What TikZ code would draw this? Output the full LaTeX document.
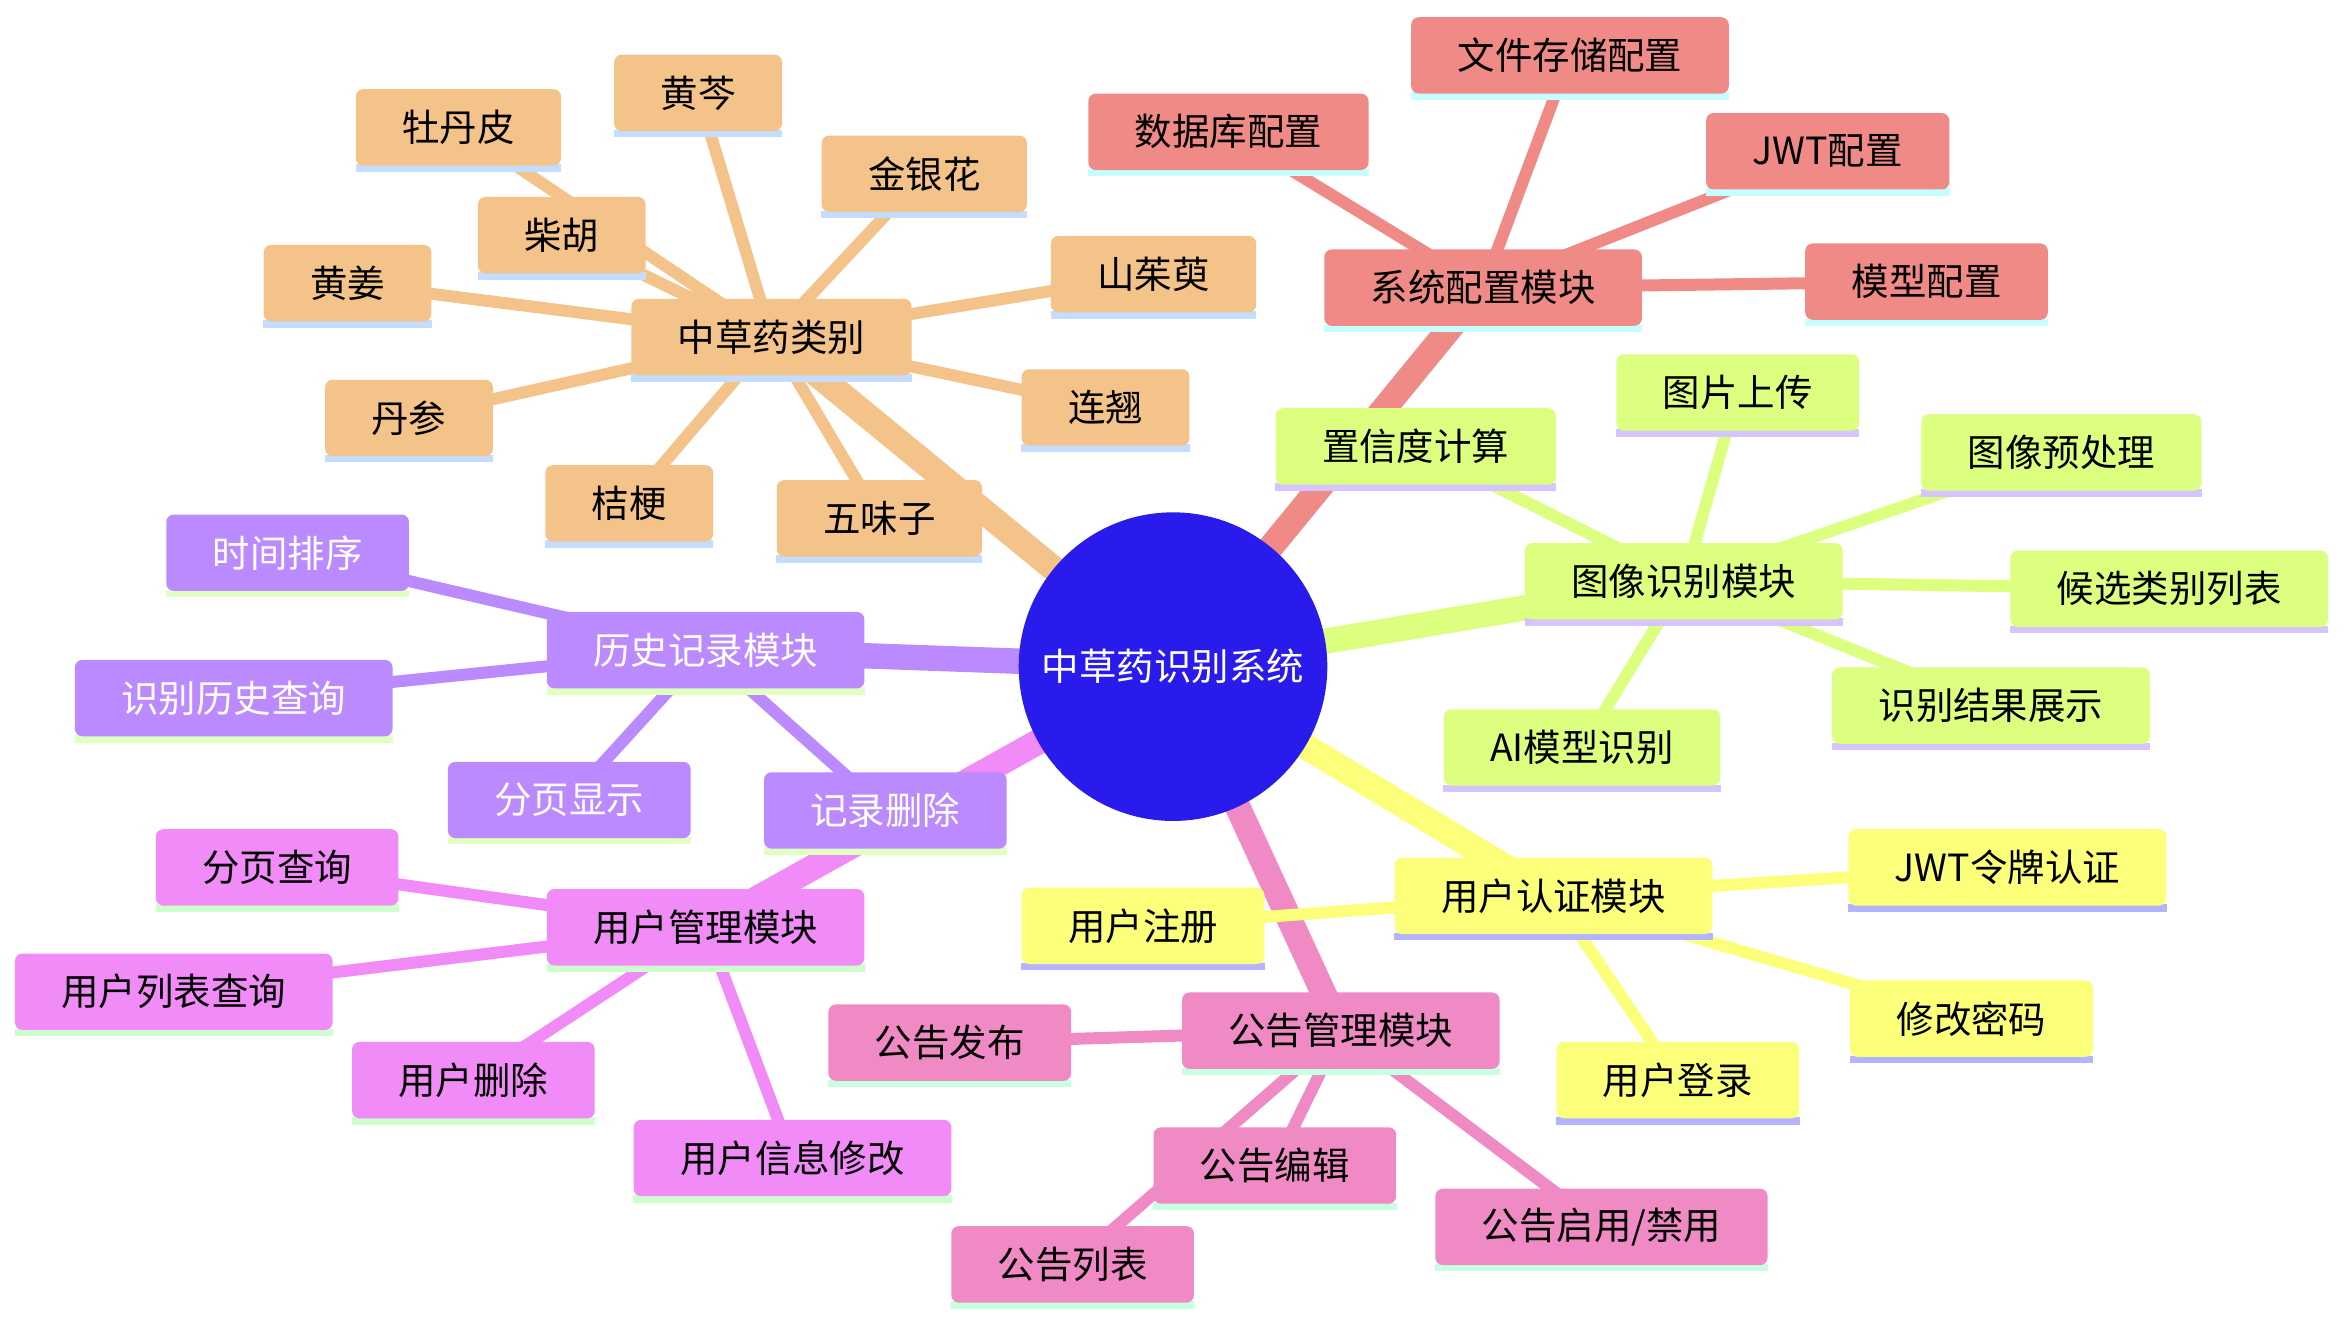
\documentclass[tikz,border=0pt]{standalone}
\usepackage{fontspec}
\newfontfamily\cjk{Noto Sans CJK SC}
\usepackage{xcolor}
\usetikzlibrary{backgrounds}
\definecolor{rootFill}{RGB}{41,27,235}
\definecolor{herbFill}{RGB}{244,195,137}
\definecolor{herbLine}{RGB}{196,221,254}
\definecolor{sysFill}{RGB}{239,138,134}
\definecolor{sysLine}{RGB}{198,255,255}
\definecolor{imgFill}{RGB}{220,255,128}
\definecolor{imgLine}{RGB}{214,196,255}
\definecolor{authFill}{RGB}{251,255,122}
\definecolor{authLine}{RGB}{179,179,255}
\definecolor{noticeFill}{RGB}{240,138,196}
\definecolor{noticeLine}{RGB}{200,255,224}
\definecolor{userFill}{RGB}{240,139,248}
\definecolor{userLine}{RGB}{204,255,204}
\definecolor{histFill}{RGB}{187,138,255}
\definecolor{histLine}{RGB}{224,255,192}

\begin{document}
\begin{tikzpicture}[x=1pt,y=1pt,
  root/.style={circle,fill=rootFill,text=white,minimum size=206pt,inner sep=0pt,
    font=\cjk\fontsize{25}{30}\selectfont},
  leaf/.style 2 args={fill=#1,rounded corners=5pt,minimum height=51pt,
    inner xsep=31pt,inner ysep=0pt,font=\cjk\fontsize{25}{30}\selectfont,
    append after command={\pgfextra{\fill[#2,sharp corners]
      ([yshift=1pt]\tikzlastnode.south west) rectangle
      ([yshift=-4pt]\tikzlastnode.south east);}}},
  trunk/.style={line width=17pt},
  twig/.style={line width=8pt}]
  \useasboundingbox (0,0) rectangle (1568,892);

  % centre
  \node[root] (root) at (783,447) {中草药识别系统};

  % herb categories
  \node[leaf={herbFill}{herbLine}] (herb) at (515,667) {中草药类别};
  \node[leaf={herbFill}{herbLine}] (mdp) at (306,807) {牡丹皮};
  \node[leaf={herbFill}{herbLine}] (hq) at (466,830) {黄芩};
  \node[leaf={herbFill}{herbLine}] (jyh) at (617,776) {金银花};
  \node[leaf={herbFill}{herbLine}] (ch) at (375,735) {柴胡};
  \node[leaf={herbFill}{herbLine}] (hj) at (232,703) {黄姜};
  \node[leaf={herbFill}{herbLine}] (szy) at (770,709) {山茱萸};
  \node[leaf={herbFill}{herbLine}] (ds) at (273,613) {丹参};
  \node[leaf={herbFill}{herbLine}] (lq) at (738,620) {连翘};
  \node[leaf={herbFill}{herbLine}] (jg) at (420,556) {桔梗};
  \node[leaf={herbFill}{herbLine}] (wwz) at (587,546) {五味子};

  % system config
  \node[leaf={sysFill}{sysLine}] (sys) at (990,700) {系统配置模块};
  \node[leaf={sysFill}{sysLine}] (fileCfg) at (1048,855) {文件存储配置};
  \node[leaf={sysFill}{sysLine}] (dbCfg) at (820,804) {数据库配置};
  \node[leaf={sysFill}{sysLine}] (jwtCfg) at (1220,791) {JWT配置};
  \node[leaf={sysFill}{sysLine}] (modelCfg) at (1286,704) {模型配置};

  % image recognition
  \node[leaf={imgFill}{imgLine}] (img) at (1124,504) {图像识别模块};
  \node[leaf={imgFill}{imgLine}] (conf) at (945,594) {置信度计算};
  \node[leaf={imgFill}{imgLine}] (upload) at (1160,630) {图片上传};
  \node[leaf={imgFill}{imgLine}] (prep) at (1376,590) {图像预处理};
  \node[leaf={imgFill}{imgLine}] (cand) at (1448,499) {候选类别列表};
  \node[leaf={imgFill}{imgLine}] (result) at (1329,421) {识别结果展示};
  \node[leaf={imgFill}{imgLine}] (aiRec) at (1056,393) {AI模型识别};

  % user auth
  \node[leaf={authFill}{authLine}] (auth) at (1037,294) {用户认证模块};
  \node[leaf={authFill}{authLine}] (jwtAuth) at (1340,313) {JWT令牌认证};
  \node[leaf={authFill}{authLine}] (reg) at (763,274) {用户注册};
  \node[leaf={authFill}{authLine}] (pwd) at (1316,212) {修改密码};
  \node[leaf={authFill}{authLine}] (login) at (1120,171) {用户登录};

  % notices
  \node[leaf={noticeFill}{noticeLine}] (notice) at (895,204) {公告管理模块};
  \node[leaf={noticeFill}{noticeLine}] (pub) at (634,196) {公告发布};
  \node[leaf={noticeFill}{noticeLine}] (edit) at (851,114) {公告编辑};
  \node[leaf={noticeFill}{noticeLine}] (toggle) at (1069,73) {公告启用/禁用};
  \node[leaf={noticeFill}{noticeLine}] (list) at (716,48) {公告列表};

  % user management
  \node[leaf={userFill}{userLine}] (user) at (471,273) {用户管理模块};
  \node[leaf={userFill}{userLine}] (pageQ) at (185,313) {分页查询};
  \node[leaf={userFill}{userLine}] (userList) at (116,230) {用户列表查询};
  \node[leaf={userFill}{userLine}] (userDel) at (316,171) {用户删除};
  \node[leaf={userFill}{userLine}] (userEdit) at (529,119) {用户信息修改};

  % history
  \node[leaf={histFill}{histLine},text=white] (hist) at (471,458) {历史记录模块};
  \node[leaf={histFill}{histLine},text=white] (timeSort) at (192,523) {时间排序};
  \node[leaf={histFill}{histLine},text=white] (histQ) at (156,426) {识别历史查询};
  \node[leaf={histFill}{histLine},text=white] (pageShow) at (380,358) {分页显示};
  \node[leaf={histFill}{histLine},text=white] (recDel) at (591,351) {记录删除};

  % connectors
  \begin{scope}[on background layer]
    \draw[trunk,herbFill] (root.center) -- (herb.center);
    \draw[trunk,sysFill] (root.center) -- (sys.center);
    \draw[trunk,imgFill] (root.center) -- (img.center);
    \draw[trunk,authFill] (root.center) -- (auth.center);
    \draw[trunk,noticeFill] (root.center) -- (notice.center);
    \draw[trunk,userFill] (root.center) -- (user.center);
    \draw[trunk,histFill] (root.center) -- (hist.center);

    \draw[twig,herbFill] (herb.center) -- (mdp.center) (herb.center) -- (hq.center)
      (herb.center) -- (jyh.center) (herb.center) -- (ch.center)
      (herb.center) -- (hj.center) (herb.center) -- (szy.center)
      (herb.center) -- (ds.center) (herb.center) -- (lq.center)
      (herb.center) -- (jg.center) (herb.center) -- (wwz.center);
    \draw[twig,sysFill] (sys.center) -- (fileCfg.center) (sys.center) -- (dbCfg.center)
      (sys.center) -- (jwtCfg.center) (sys.center) -- (modelCfg.center);
    \draw[twig,imgFill] (img.center) -- (conf.center) (img.center) -- (upload.center)
      (img.center) -- (prep.center) (img.center) -- (cand.center)
      (img.center) -- (result.center) (img.center) -- (aiRec.center);
    \draw[twig,authFill] (auth.center) -- (jwtAuth.center) (auth.center) -- (reg.center)
      (auth.center) -- (pwd.center) (auth.center) -- (login.center);
    \draw[twig,noticeFill] (notice.center) -- (pub.center) (notice.center) -- (edit.center)
      (notice.center) -- (toggle.center) (notice.center) -- (list.center);
    \draw[twig,userFill] (user.center) -- (pageQ.center) (user.center) -- (userList.center)
      (user.center) -- (userDel.center) (user.center) -- (userEdit.center);
    \draw[twig,histFill] (hist.center) -- (timeSort.center) (hist.center) -- (histQ.center)
      (hist.center) -- (pageShow.center) (hist.center) -- (recDel.center);
  \end{scope}
\end{tikzpicture}
\end{document}
